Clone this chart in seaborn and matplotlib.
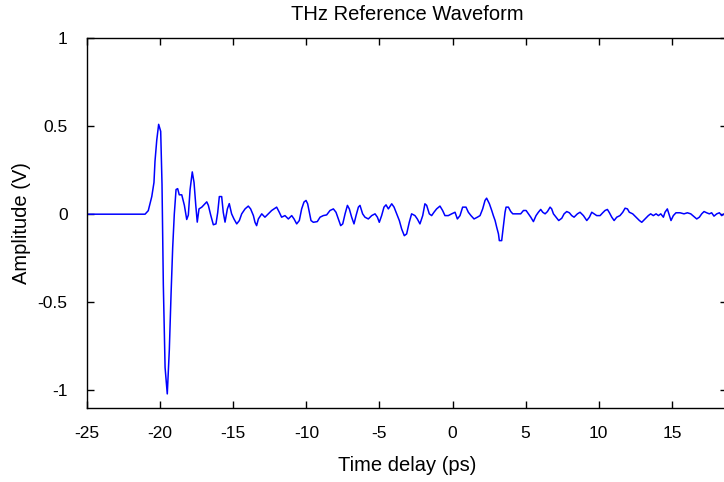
import numpy as np
import pandas as pd
import matplotlib
matplotlib.use("Agg")
import matplotlib.pyplot as plt
import seaborn as sns

# Time delay (ps) and amplitude (V)
time_ps = [
    -25.00, -21.03, -20.81, -20.57, -20.42, -20.35, -20.23, -20.10, -19.96, -19.87,
    -19.78, -19.66, -19.51, -19.37, -19.25, -19.14, -19.03, -18.91, -18.80, -18.69,
    -18.52, -18.34, -18.18, -18.07, -17.95, -17.80, -17.68, -17.56, -17.46, -17.34,
    -17.15, -16.93, -16.81, -16.70, -16.54, -16.36, -16.18, -16.06, -15.95, -15.79,
    -15.68, -15.56, -15.40, -15.27,
    -15.11, -14.95, -14.76, -14.58, -14.42, -14.19, -13.97, -13.81, -13.62, -13.51,
    -13.40, -13.28, -13.05, -12.83, -12.60, -12.37, -12.14, -12.03, -11.85, -11.69,
    -11.46, -11.23, -11.00, -10.84, -10.66, -10.48, -10.32, -10.16, -10.02, -9.91,
    -9.79, -9.68, -9.52, -9.25, -9.06, -8.84, -8.61, -8.38, -8.15, -7.97,
    -7.81, -7.65, -7.51, -7.35, -7.19, -7.06, -6.90, -6.74, -6.60, -6.44,
    -6.33, -6.15, -5.99, -5.76, -5.53, -5.30, -5.14, -5.01, -4.85, -4.69,
    -4.55, -4.39, -4.16, -4.00, -3.82, -3.64, -3.48, -3.30, -3.14, -2.96,
    -2.80, -2.57, -2.41, -2.23, -2.04, -1.89, -1.77, -1.59, -1.43, -1.27,
    -1.09, -0.86, -0.68, -0.52, -0.29, -0.06, 0.17, 0.33, 0.51, 0.69,
    0.92, 1.08, 1.26, 1.47, 1.70, 1.88, 2.06, 2.22, 2.33, 2.52,
    2.68, 2.79, 2.91, 3.02, 3.14, 3.20, 3.36, 3.48, 3.59, 3.66,
    3.82, 3.98, 4.12, 4.39, 4.66, 4.85, 5.03, 5.19, 5.35, 5.53,
    5.71, 5.87, 6.03, 6.17, 6.33, 6.49, 6.67, 6.78, 6.90, 7.08,
    7.26, 7.47, 7.63, 7.81, 7.99, 8.15, 8.31, 8.54, 8.72, 8.95,
    9.18, 9.36, 9.52, 9.68, 9.86, 10.09, 10.27, 10.43, 10.59, 10.73,
    10.89, 11.05, 11.23, 11.45, 11.64, 11.80, 11.96, 12.09, 12.32, 12.55,
    12.78, 12.94, 13.16, 13.39, 13.55, 13.73, 13.92, 14.08, 14.24, 14.42,
    14.53, 14.69, 14.83, 14.94, 15.10, 15.28, 15.56, 15.83, 16.06, 16.29,
    16.47, 16.70, 16.88, 17.04, 17.20, 17.38, 17.56, 17.72, 17.88, 18.07,
    18.25, 18.41, 18.57, 18.80,
]
amplitude_v = [
    0.000, 0.000, 0.020, 0.100, 0.180, 0.300, 0.420, 0.510, 0.470, 0.170,
    -0.400, -0.870, -1.020, -0.770, -0.450, -0.190, 0.000, 0.140, 0.145, 0.110,
    0.110, 0.050, -0.030, -0.005, 0.140, 0.240, 0.180, 0.050, -0.045, 0.030,
    0.040, 0.060, 0.070, 0.050, -0.005, -0.060, -0.055, 0.010, 0.100, 0.100,
    0.010, -0.045, 0.030, 0.060,
    0.002, -0.027, -0.055, -0.036, 0.002, 0.030, 0.046, 0.030, -0.008, -0.046,
    -0.065, -0.027, 0.002, -0.017, 0.002, 0.021, 0.034, 0.040, 0.011, -0.017,
    -0.008, -0.027, -0.008, -0.027, -0.055, -0.036, 0.030, 0.069, 0.078, 0.059,
    0.011, -0.036, -0.046, -0.042, -0.017, -0.008, -0.004, 0.021, 0.030, 0.011,
    -0.027, -0.065, -0.055, 0.002, 0.050, 0.030, -0.017, -0.055, -0.008, 0.040,
    0.050, 0.002, -0.017, -0.027, -0.008, 0.002, -0.017, -0.046, -0.008, 0.040,
    0.053, 0.030, 0.059, 0.040, 0.002, -0.036, -0.084, -0.122, -0.112, -0.046,
    0.002, -0.008, -0.027, -0.055, -0.008, 0.059, 0.050, 0.002, -0.008, 0.011,
    0.030, 0.046, 0.021, -0.008, -0.008, 0.002, 0.011, -0.027, -0.008, 0.040,
    0.040, 0.011, -0.008, -0.027, -0.017, -0.008, 0.030, 0.078, 0.091, 0.059,
    0.021, -0.008, -0.036, -0.074, -0.112, -0.150, -0.150, -0.065, 0.011, 0.040,
    0.040, 0.015, 0.002, 0.002, 0.002, 0.021, 0.021, 0.002, -0.017, -0.042,
    -0.008, 0.011, 0.027, 0.011, 0.002, 0.015, 0.040, 0.030, 0.002, -0.017,
    -0.036, -0.023, 0.002, 0.015, 0.008, -0.008, -0.017, 0.002, 0.011, -0.008,
    -0.036, -0.017, 0.011, 0.002, -0.008, -0.008, 0.008, 0.021, 0.027, 0.008,
    -0.017, -0.036, -0.017, -0.008, 0.011, 0.034, 0.030, 0.011, 0.002, -0.017,
    -0.036, -0.046, -0.027, -0.008, 0.002, -0.008, 0.002, -0.008, 0.002, -0.017,
    0.011, 0.030, -0.008, -0.036, -0.008, 0.008, 0.008, 0.002, 0.008, 0.002,
    -0.011, -0.027, -0.017, 0.002, 0.015, 0.008, 0.002, 0.008, -0.011, 0.002,
    0.008, -0.008, 0.002, 0.000,
]

x_ticks = [-25, -20, -15, -10, -5, 0, 5, 10, 15]
y_ticks = [-1, -0.5, 0, 0.5, 1]
y_tick_labels = ["-1", "-0.5", "0", "0.5", "1"]

df = pd.DataFrame({"Time delay (ps)": time_ps, "Amplitude (V)": amplitude_v})

sns.set_theme(style="ticks")
plt.rcParams["font.family"] = ["Liberation Sans", "DejaVu Sans"]
plt.rcParams["axes.unicode_minus"] = False

fig = plt.figure(figsize=(7.24, 4.82), dpi=100)
W, H = 724, 482
left, right, top, bottom = 87, 727, 38, 408
ax = fig.add_axes([left / W, 1 - bottom / H, (right - left) / W, (bottom - top) / H])

sns.lineplot(data=df, x="Time delay (ps)", y="Amplitude (V)", ax=ax,
             color="#0000ff", linewidth=1.1, estimator=None, sort=False)

ax.set_xlim(-25, 18.77)
ax.set_ylim(-1.1, 1.0)
ax.set_xticks(x_ticks)
ax.set_xticklabels([str(v) for v in x_ticks])
ax.set_yticks(y_ticks)
ax.set_yticklabels(y_tick_labels)

for s in ax.spines.values():
    s.set_visible(True)
    s.set_color("black")
    s.set_linewidth(1.0)

ax.tick_params(direction="in", length=5, width=1, color="black",
               top=True, right=True, labelsize=12.5, labelcolor="black")
ax.tick_params(axis="x", pad=13)
ax.tick_params(axis="y", pad=14)
ax.set_xlabel("Time delay (ps)", fontsize=14.5, color="black", labelpad=10.5)
ax.set_ylabel("Amplitude (V)", fontsize=14.5, color="black", labelpad=5)
ax.set_title("THz Reference Waveform", fontsize=14.5, color="black", pad=13)

fig.savefig("out.png", dpi=100)
